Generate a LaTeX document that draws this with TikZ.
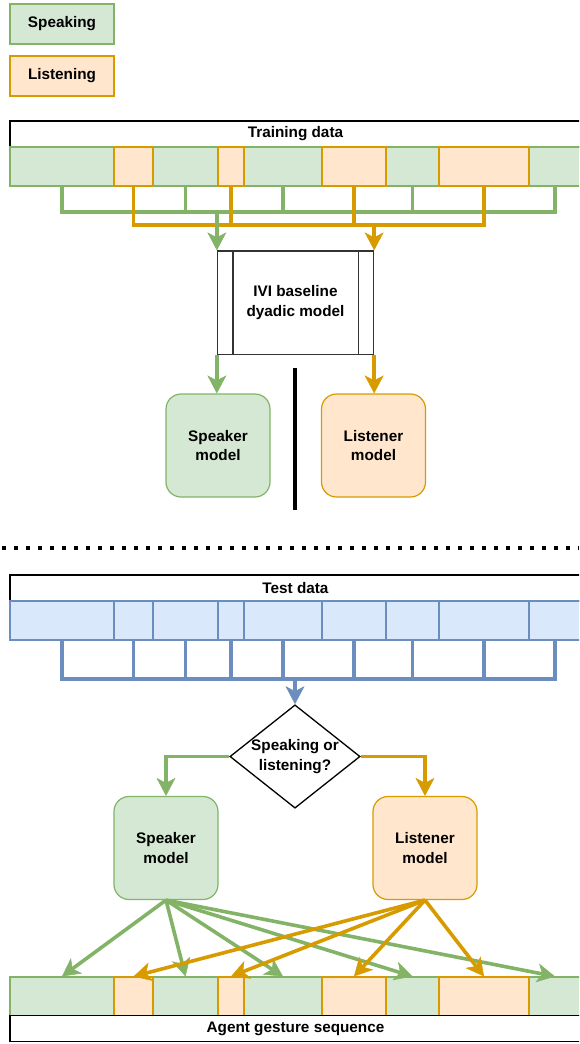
\documentclass[tikz,border=0pt]{standalone}
\usepackage{fontspec}
\setmainfont{Liberation Sans}
\usetikzlibrary{arrows.meta,shapes.geometric}
\usepackage{xcolor}
\definecolor{SpeakFill}{HTML}{D5E8D4}
\definecolor{SpeakLine}{HTML}{82B366}
\definecolor{ListenFill}{HTML}{FFE6CC}
\definecolor{ListenLine}{HTML}{D79B00}
\definecolor{TestFill}{HTML}{DAE8FC}
\definecolor{TestLine}{HTML}{6C8EBF}

\tikzset{
  seg/.style={minimum height=39pt, inner sep=0pt, line width=1.2pt},
  speak/.style={seg, fill=SpeakFill, draw=SpeakLine},
  listen/.style={seg, fill=ListenFill, draw=ListenLine},
  test/.style={seg, fill=TestFill, draw=TestLine},
  titlebox/.style={draw=black, line width=1.3pt, fill=white, minimum width=571pt, minimum height=26pt, inner sep=0pt},
  model/.style={rounded corners=15pt, minimum width=104pt, minimum height=103pt, inner sep=0pt, line width=1.2pt, align=center},
  wire/.style={line width=3.6pt},
  arrowed/.style={-{Stealth[length=18pt,width=19pt,inset=5pt,line width=0.5pt]}},
}

\begin{document}
\begin{tikzpicture}[x=1pt, y=-1pt, font=\fontsize{15.3}{19.5}\selectfont\bfseries]
\useasboundingbox (0,0) rectangle (579,1044);
\clip (0,0) rectangle (579,1044);

% legend
\node[speak, minimum width=104pt, minimum height=40pt] (legS) at (62,24) {Speaking};
\node[listen, minimum width=104pt, minimum height=40pt] (legL) at (62,76) {Listening};

% training data
\node[titlebox] (train) at (295.5,134) {Training data};
\node[speak, minimum width=104pt] (tr1) at (62,166.5) {};
\node[speak, minimum width=65pt] (tr3) at (185.5,166.5) {};
\node[speak, minimum width=78pt] (tr5) at (283,166.5) {};
\node[speak, minimum width=53pt] (tr7) at (412.5,166.5) {};
\node[speak, minimum width=52pt] (tr9) at (555,166.5) {};
\node[listen, minimum width=39pt] (tr2) at (133.5,166.5) {};
\node[listen, minimum width=26pt] (tr4) at (231,166.5) {};
\node[listen, minimum width=64pt] (tr6) at (354,166.5) {};
\node[listen, minimum width=90pt] (tr8) at (484,166.5) {};

\coordinate (gbar) at (0,212);
\coordinate (obar) at (0,225);
\draw[wire, SpeakLine] (tr1.south) |- (tr9.south |- gbar) -- (tr9.south);
\draw[wire, SpeakLine] (tr3.south) -- (tr3.south |- gbar) (tr5.south) -- (tr5.south |- gbar) (tr7.south) -- (tr7.south |- gbar);
\draw[wire, ListenLine] (tr2.south) |- (tr8.south |- obar) -- (tr8.south);
\draw[wire, ListenLine] (tr4.south) -- (tr4.south |- obar) (tr6.south) -- (tr6.south |- obar);

% baseline model
\node[draw=black!80, line width=1.3pt, fill=white, minimum width=156pt, minimum height=103.5pt, align=center] (ivi) at (295.5,302.75) {IVI baseline\\dyadic model};
\draw[black!80, line width=1.3pt] ([xshift=16pt]ivi.north west) -- ([xshift=16pt]ivi.south west) ([xshift=-16pt]ivi.north east) -- ([xshift=-16pt]ivi.south east);
\draw[wire, SpeakLine, arrowed] (ivi.north west |- gbar) -- (ivi.north west);
\draw[wire, ListenLine, arrowed] (ivi.north east |- obar) -- (ivi.north east);

\node[model, fill=SpeakFill, draw=SpeakLine] (spk1) at (218,445.5) {Speaker\\model};
\node[model, fill=ListenFill, draw=ListenLine] (lis1) at (373.5,445.5) {Listener\\model};
\draw[wire, SpeakLine, arrowed] (ivi.south west) -- (ivi.south west |- spk1.north);
\draw[wire, ListenLine, arrowed] (ivi.south east) -- (ivi.south east |- lis1.north);

\draw[line width=4pt] (295,368) -- (295,510);
\draw[line width=4pt, dash pattern=on 4pt off 8pt] (2,548) -- (579,548);

% test data
\node[titlebox] (test) at (295.5,588) {Test data};
\node[test, minimum width=104pt] (te1) at (62,620.5) {};
\node[test, minimum width=39pt] (te2) at (133.5,620.5) {};
\node[test, minimum width=65pt] (te3) at (185.5,620.5) {};
\node[test, minimum width=26pt] (te4) at (231,620.5) {};
\node[test, minimum width=78pt] (te5) at (283,620.5) {};
\node[test, minimum width=64pt] (te6) at (354,620.5) {};
\node[test, minimum width=53pt] (te7) at (412.5,620.5) {};
\node[test, minimum width=90pt] (te8) at (484,620.5) {};
\node[test, minimum width=52pt] (te9) at (555,620.5) {};

\coordinate (bbar) at (0,679);
\draw[wire, TestLine] (te1.south) |- (te9.south |- bbar) -- (te9.south);
\draw[wire, TestLine] (te2.south) -- (te2.south |- bbar) (te3.south) -- (te3.south |- bbar) (te4.south) -- (te4.south |- bbar) (te5.south) -- (te5.south |- bbar) (te6.south) -- (te6.south |- bbar) (te7.south) -- (te7.south |- bbar) (te8.south) -- (te8.south |- bbar);

\node[diamond, draw=black, line width=1.3pt, fill=white, aspect=1.26, inner sep=0pt, align=center, minimum width=130pt, minimum height=103pt] (dec) at (295,756.5) {Speaking or\\listening?};
\draw[wire, TestLine, arrowed] (dec.north |- bbar) -- (dec.north);

\node[model, fill=SpeakFill, draw=SpeakLine] (spk2) at (166,848) {Speaker\\model};
\node[model, fill=ListenFill, draw=ListenLine] (lis2) at (425,848) {Listener\\model};
\draw[wire, SpeakLine, arrowed] (dec.west) -| (spk2.north);
\draw[wire, ListenLine, arrowed] (dec.east) -| (lis2.north);

% generated sequence
\node[speak, minimum width=104pt] (ag1) at (62,996.5) {};
\node[speak, minimum width=65pt] (ag3) at (185.5,996.5) {};
\node[speak, minimum width=78pt] (ag5) at (283,996.5) {};
\node[speak, minimum width=53pt] (ag7) at (412.5,996.5) {};
\node[speak, minimum width=52pt] (ag9) at (555,996.5) {};
\node[listen, minimum width=39pt] (ag2) at (133.5,996.5) {};
\node[listen, minimum width=26pt] (ag4) at (231,996.5) {};
\node[listen, minimum width=64pt] (ag6) at (354,996.5) {};
\node[listen, minimum width=90pt] (ag8) at (484,996.5) {};
\node[titlebox] (agent) at (295.5,1028.5) {Agent gesture sequence};

\draw[wire, SpeakLine, arrowed] (spk2.south) -- (ag1.north);
\draw[wire, SpeakLine, arrowed] (spk2.south) -- (ag3.north);
\draw[wire, SpeakLine, arrowed] (spk2.south) -- (ag5.north);
\draw[wire, SpeakLine, arrowed] (spk2.south) -- (ag7.north);
\draw[wire, SpeakLine, arrowed] (spk2.south) -- (ag9.north);
\draw[wire, ListenLine, arrowed] (lis2.south) -- (ag2.north);
\draw[wire, ListenLine, arrowed] (lis2.south) -- (ag4.north);
\draw[wire, ListenLine, arrowed] (lis2.south) -- (ag6.north);
\draw[wire, ListenLine, arrowed] (lis2.south) -- (ag8.north);
\end{tikzpicture}
\end{document}
